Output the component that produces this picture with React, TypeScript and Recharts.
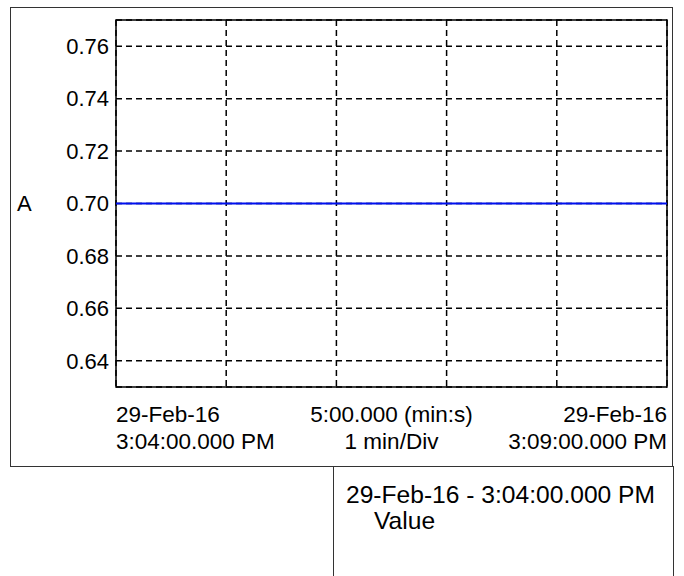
import React from 'react';
import { LineChart, Line, XAxis, YAxis, CartesianGrid, ReferenceArea } from 'recharts';

// minutes from 29-Feb-16 3:04:00.000 PM
const minutes = [0, 1, 2, 3, 4, 5];
const current = [0.7, 0.7, 0.7, 0.7, 0.7, 0.7];
const yTicks = [0.64, 0.66, 0.68, 0.7, 0.72, 0.74, 0.76];
const yDomain = [0.63, 0.77];
const startLabel = ['29-Feb-16', '3:04:00.000 PM'];
const endLabel = ['29-Feb-16', '3:09:00.000 PM'];
const spanLabel = ['5:00.000 (min:s)', '1 min/Div'];
const cursorLabel = '29-Feb-16 - 3:04:00.000 PM';

const data = minutes.map((m, i) => ({ t: m, value: current[i] }));

const FONT = '"Liberation Sans", Arial, Helvetica, sans-serif';
const FS = 22;
const XFS = 22.5;

const XTick = (props: any) => {
  const { x, y, index } = props;
  let lines: string[] | null = null;
  let anchor = 'start';
  if (index === 0) lines = startLabel;
  if (index === minutes.length - 1) {
    lines = endLabel;
    anchor = 'end';
  }
  if (!lines) return null;
  return (
    <g>
      <text x={x} y={y + 35} textAnchor={anchor} fontSize={XFS} fontFamily={FONT} fill="#000">
        {lines[0]}
      </text>
      <text x={x} y={y + 62} textAnchor={anchor} fontSize={XFS} fontFamily={FONT} fill="#000">
        {lines[1]}
      </text>
    </g>
  );
};

const SpanLabel = (props: any) => {
  const vb = props.viewBox || {};
  const cx = vb.x + vb.width / 2;
  return (
    <g>
      <text x={cx} y={vb.y + 35} textAnchor="middle" fontSize={XFS} fontFamily={FONT} fill="#000">
        {spanLabel[0]}
      </text>
      <text x={cx} y={vb.y + 62} textAnchor="middle" fontSize={XFS} fontFamily={FONT} fill="#000">
        {spanLabel[1]}
      </text>
    </g>
  );
};

const UnitLabel = (props: any) => {
  const vb = props.viewBox || {};
  return (
    <text x={vb.x + 7} y={vb.y + vb.height / 2 + 7} fontSize={FS} fontFamily={FONT} fill="#000">
      A
    </text>
  );
};

export default function App() {
  return (
    <div style={{ position: 'absolute', left: 0, top: 0, width: 684, height: 576, background: '#fff', fontFamily: FONT }}>
      <div style={{ position: 'absolute', left: 10, top: 7, width: 663, height: 460, border: '1px solid #333', boxSizing: 'border-box' }} />
      <div style={{ position: 'absolute', left: 333, top: 466, width: 341, height: 120, border: '1px solid #333', boxSizing: 'border-box' }} />
      <div style={{ position: 'absolute', left: 0, top: 0 }}>
        <LineChart width={684} height={576} data={data} margin={{ top: 20, right: 17, left: 10, bottom: 0 }}>
          <CartesianGrid stroke="#000" strokeDasharray="6 4" strokeWidth={1.5} />
          <XAxis
            dataKey="t"
            type="number"
            domain={[0, 5]}
            ticks={minutes}
            height={189}
            axisLine={false}
            tickLine={false}
            tickSize={0}
            tickMargin={0}
            tick={<XTick />}
            interval={0}
            label={{ content: <SpanLabel /> }}
          />
          <YAxis
            type="number"
            domain={yDomain}
            ticks={yTicks}
            width={106}
            axisLine={false}
            tickLine={false}
            tickSize={0}
            tickMargin={7}
            interval={0}
            tick={{ fill: '#000', fontSize: FS, fontFamily: FONT }}
            tickFormatter={(v: number) => v.toFixed(2)}
            label={{ content: <UnitLabel /> }}
          />
          <ReferenceArea x1={0} x2={5} y1={yDomain[0]} y2={yDomain[1]} fill="none" stroke="#000" strokeWidth={1.5} />
          <Line type="linear" dataKey="value" stroke="#0010f0" strokeWidth={2} dot={false} isAnimationActive={false} />
        </LineChart>
      </div>
      <div style={{ position: 'absolute', left: 346, top: 482, fontSize: 24.6, lineHeight: '26px', color: '#000', whiteSpace: 'nowrap' }}>
        <div>{cursorLabel}</div>
        <div style={{ paddingLeft: 28 }}>Value</div>
      </div>
    </div>
  );
}
